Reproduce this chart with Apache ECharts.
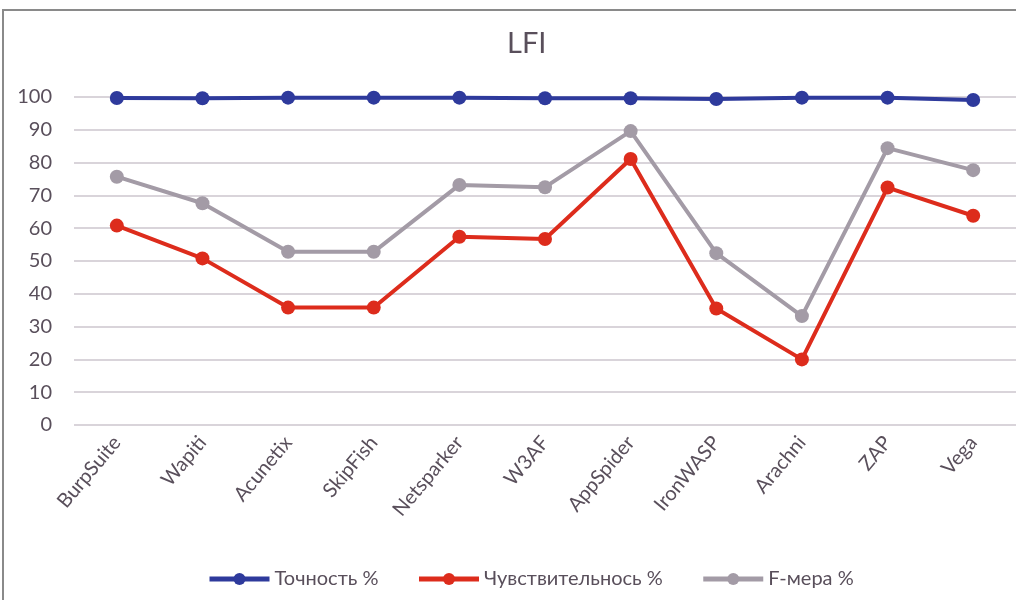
<!DOCTYPE html>
<html>
<head>
<meta charset="utf-8">
<script src="https://cdn.jsdelivr.net/npm/echarts@6/dist/echarts.min.js"></script>
<style>
html, body { margin: 0; padding: 0; background: #fff; }
#main { width: 1016px; height: 600px; }
</style>
</head>
<body>
<div id="main"></div>
<script>
var categories = ['BurpSuite', 'Wapiti', 'Acunetix', 'SkipFish', 'Netsparker', 'W3AF', 'AppSpider', 'IronWASP', 'Arachni', 'ZAP', 'Vega'];
var precision = [99.7, 99.6, 99.8, 99.8, 99.8, 99.6, 99.6, 99.4, 99.8, 99.8, 99.1];
var sensitivity = [60.8, 50.8, 35.8, 35.8, 57.4, 56.7, 81.1, 35.5, 20.0, 72.4, 63.8];
var fmeasure = [75.7, 67.6, 52.8, 52.8, 73.2, 72.5, 89.6, 52.4, 33.2, 84.4, 77.7];
var seriesNames = ['Точность %', 'Чувствительнось %', 'F-мера %'];

var textColor = '#594f5b';
var font = 'Lato, "Open Sans", sans-serif';

function show() {
    var myChart = echarts.init(document.getElementById('main'));

    function line(name, data, color) {
        return {
            name: name,
            type: 'line',
            data: data,
            symbol: 'circle',
            symbolSize: 14,
            lineStyle: { color: color, width: 4 },
            itemStyle: { color: color },
            emphasis: { disabled: true }
        };
    }

    var option = {
        animation: false,
        textStyle: { fontFamily: font },
        title: {
            text: 'LFI',
            left: 502,
            top: 24,
            textStyle: { color: textColor, fontSize: 29, fontWeight: 'normal', fontFamily: font }
        },
        legend: {
            bottom: 6,
            left: 202,
            itemWidth: 60,
            itemHeight: 15,
            itemGap: 38,
            lineStyle: { width: 5 },
            textStyle: { color: textColor, fontSize: 20, fontFamily: font },
            data: seriesNames
        },
        grid: { left: 74, right: -1, top: 97, bottom: 175 },
        xAxis: {
            type: 'category',
            data: categories,
            boundaryGap: true,
            axisLine: { show: false },
            axisTick: { show: false },
            axisLabel: { rotate: 50, color: textColor, fontSize: 20, margin: 14, fontFamily: font }
        },
        yAxis: {
            type: 'value',
            min: 0,
            max: 100,
            interval: 10,
            axisLine: { show: false },
            axisTick: { show: false },
            splitLine: { lineStyle: { color: '#d9d4da', width: 2 } },
            axisLabel: { color: textColor, fontSize: 20, margin: 22, fontFamily: font }
        },
        graphic: [
            { type: 'polyline', shape: { points: [[3, 600], [3, 10], [1016, 10]] },
              style: { stroke: '#8a8a8a', lineWidth: 2, fill: null } }
        ],
        series: [
            line(seriesNames[0], precision, '#2e3a9c'),
            line(seriesNames[1], sensitivity, '#dd2c1c'),
            line(seriesNames[2], fmeasure, '#a39ba6')
        ]
    };

    myChart.setOption(option);
}

show();
</script>
</body>
</html>
